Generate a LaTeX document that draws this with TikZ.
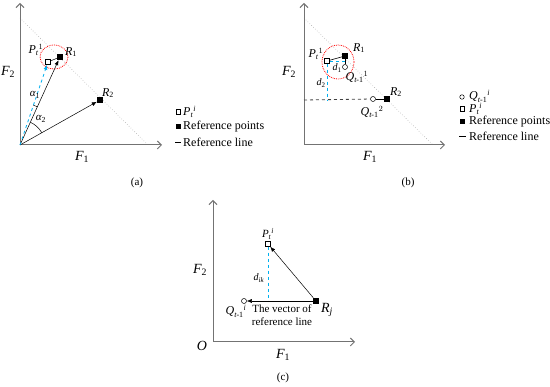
\documentclass[tikz,border=0pt]{standalone}
\usepackage{amsmath}
\usepackage{fontspec}
\setmainfont{Liberation Serif}
\usetikzlibrary{arrows.meta}
\definecolor{bl}{RGB}{0,176,240}
\definecolor{axg}{RGB}{115,115,115}
\newcommand\Pt[1]{$\textit{P}_{\textit{t}}{}^{#1}$}
\newcommand\Qt[1]{$\textit{Q}_{\textit{t}\text{-1}}{}^{#1}$}
\newcommand\Fl[1]{$\textit{F}_{\text{#1}}$}
\tikzset{
  refpt/.style={fill=black, minimum size=6pt, inner sep=0pt},
  ptsq/.style={draw, fill=white, minimum size=5pt, inner sep=0pt, line width=0.5pt},
  qcirc/.style={draw, circle, fill=white, minimum size=5pt, inner sep=0pt, line width=0.5pt},
  axis/.style={draw=axg, line width=1pt, -{Straight Barb[length=4pt,width=8pt]}},
  diag/.style={draw=gray!60, dotted, line width=0.6pt},
  vec/.style={-{Latex[length=5pt,width=4pt]}, line width=0.5pt},
  bdash/.style={draw=bl, dashed, line width=0.8pt},
  redell/.style={draw=red, densely dotted, line width=0.8pt},
  lab/.style={font=\fontsize{12}{13}\selectfont, inner sep=0pt},
  flab/.style={font=\fontsize{14}{15}\selectfont, inner sep=0pt},
  slab/.style={font=\fontsize{12}{13}\selectfont, inner sep=0pt},
  dlab/.style={font=\fontsize{10}{11}\selectfont, inner sep=0pt},
  capt/.style={font=\fontsize{11}{13}\selectfont, inner sep=0pt},
}
\begin{document}
\begin{tikzpicture}[x=1pt,y=-1pt]
\useasboundingbox (0,0) rectangle (550,387);
% ---------------- panel (a)
\coordinate (Oa) at (20,145);
\coordinate (Ya) at (20,3);
\coordinate (Xa) at (162,145);
\coordinate (Da1) at (20,18);
\coordinate (Da2) at (148,145);
\draw[diag] (Da1) -- (Da2);
\draw[axis] (Oa) -- (Ya);
\draw[axis] (Oa) -- (Xa);
\draw[redell] (54,57) ellipse [x radius=14, y radius=12];
\node[refpt] (aR1) at (60,57) {};
\node[refpt] (aR2) at (100,100) {};
\node[ptsq] (aP) at (48,62) {};
\draw[line width=0.5pt] (aP) -- (aR1);
\draw[vec] (Oa) -- (aR1);
\draw[vec] (Oa) -- (aR2);
\draw[bdash, -{Latex[length=5pt,width=4pt]}] (Oa) -- (aP);
\draw[line width=0.5pt] (Oa) ++(-29.4:25) arc[start angle=-29.4, end angle=-65.6, radius=25];
\draw[line width=0.5pt] (Oa) ++(-65.6:42) arc[start angle=-65.6, end angle=-71.4, radius=42];
\node[slab] (aPl) at (36,50) {\Pt{1}};
\node[slab] (aR1l) at (71,52) {$\textit{R}_{\text{1}}$};
\node[slab] (aR2l) at (108,93) {$\textit{R}_{\text{2}}$};
\node[lab, font=\fontsize{11}{12}\selectfont] (aal1) at (35,95) {$\textit{α}_{\text{1}}$};
\node[lab, font=\fontsize{11}{12}\selectfont] (aal2) at (41,119) {$\textit{α}_{\text{2}}$};
\node[flab] (aF2) at (8,72) {\Fl{2}};
\node[flab] (aF1) at (82,157) {\Fl{1}};
\node[capt] (acap) at (137,183) {(a)};
% legend (a)
\node[ptsq, minimum size=4.5pt] (la1) at (178,112) {};
\node[lab, anchor=west] (lt1) at (183,112) {\Pt{\textit{i}}};
\node[refpt, minimum size=5pt] (la2) at (178,127) {};
\node[lab, anchor=west] (lt2) at (183,127) {Reference points};
\coordinate (la3a) at (175,142);
\coordinate (la3b) at (181,142);
\draw[line width=0.6pt] (la3a) -- (la3b);
\node[lab, anchor=west] (lt3) at (183,142) {Reference line};
% ---------------- panel (b)
\coordinate (Ob) at (304,145);
\coordinate (Yb) at (304,3);
\coordinate (Xb) at (445,145);
\coordinate (Db1) at (304,18);
\coordinate (Db2) at (433,145);
\draw[diag] (Db1) -- (Db2);
\draw[axis] (Ob) -- (Yb);
\draw[axis] (Ob) -- (Xb);
\draw[redell] (338,62) ellipse [x radius=16, y radius=17];
\node[refpt] (bR1) at (345,56) {};
\node[refpt] (bR2) at (387,99) {};
\node[ptsq] (bP) at (327,61) {};
\node[qcirc] (bQ1) at (345,67) {};
\node[qcirc] (bQ2) at (373,99) {};
\coordinate (bH0) at (304,100);
\coordinate (bPd) at (327,100);
\coordinate (bPr) at (345,61);
\draw[dashed, line width=0.8pt, draw=black!75] (bH0) -- (bQ2);
\draw[line width=0.6pt] (bQ2) -- (bR2);
\draw[line width=0.6pt] (bP) -- (bR1);
\draw[line width=0.6pt] (bR1) -- (bQ1);
\draw[bdash] (bP) -- (bPd);
\draw[bdash, line width=0.6pt] (bP) -- (bPr);
\node[slab] (bPl) at (316,54) {\Pt{1}};
\node[slab] (bR1l) at (359,48) {$\textit{R}_{\text{1}}$};
\node[dlab] (bd1) at (337,68) {$\textit{d}_{\text{1}}$};
\node[slab] (bQ1l) at (357,77) {\Qt{1}};
\node[dlab] (bd2) at (321,83) {$\textit{d}_{\text{2}}$};
\node[slab] (bR2l) at (396,92) {$\textit{R}_{\text{2}}$};
\node[slab] (bQ2l) at (372,112) {\Qt{2}};
\node[flab] (bF2) at (289,72) {\Fl{2}};
\node[flab] (bF1) at (370,157) {\Fl{1}};
\node[capt] (bcap) at (408,183) {(b)};
% legend (b)
\node[qcirc, minimum size=4.5pt] (lb0) at (462,97) {};
\node[lab, anchor=west] (lbt0) at (469,96) {\Qt{\textit{i}}};
\node[ptsq, minimum size=4.5pt] (lb1) at (462,109) {};
\node[lab, anchor=west] (lbt1) at (469,109) {\Pt{\textit{i}}};
\node[refpt, minimum size=5pt] (lb2) at (462,122) {};
\node[lab, anchor=west] (lbt2) at (469,122) {Reference points};
\coordinate (lb3a) at (459,136);
\coordinate (lb3b) at (466,136);
\draw[line width=0.6pt] (lb3a) -- (lb3b);
\node[lab, anchor=west] (lbt3) at (469,136) {Reference line};
% ---------------- panel (c)
\coordinate (Oc) at (213,342);
\coordinate (Yc) at (213,200);
\coordinate (Xc) at (355,342);
\draw[axis] (Oc) -- (Yc);
\draw[axis] (Oc) -- (Xc);
\node[ptsq] (cP) at (268,244) {};
\node[refpt] (cR) at (316,301) {};
\node[qcirc] (cQ) at (244,301) {};
\coordinate (cF) at (268,301);
\draw[bdash] (cP) -- (cF);
\draw[vec] (cR) -- (cP);
\draw[vec] (cR) -- (cQ);
\node[lab, font=\fontsize{11}{12}\selectfont] (cPl) at (268,234) {\Pt{\textit{i}}};
\node[dlab] (cdl) at (259,278) {$\textit{d}_{\textit{ik}}$};
\node[slab] (cQl) at (236,311) {\Qt{\textit{i}}};
\node[flab] (cRl) at (327,310) {$\textit{R}_{\textit{j}}$};
\node[lab, font=\fontsize{11}{13}\selectfont, align=center] (cvl) at (282,315) {The vector of\\reference line};
\node[flab] (cO) at (202,346) {\textit{O}};
\node[flab] (cF2) at (200,270) {\Fl{2}};
\node[flab] (cF1) at (283,355) {\Fl{1}};
\node[capt] (ccap) at (283,378) {(c)};
\end{tikzpicture}
\end{document}
